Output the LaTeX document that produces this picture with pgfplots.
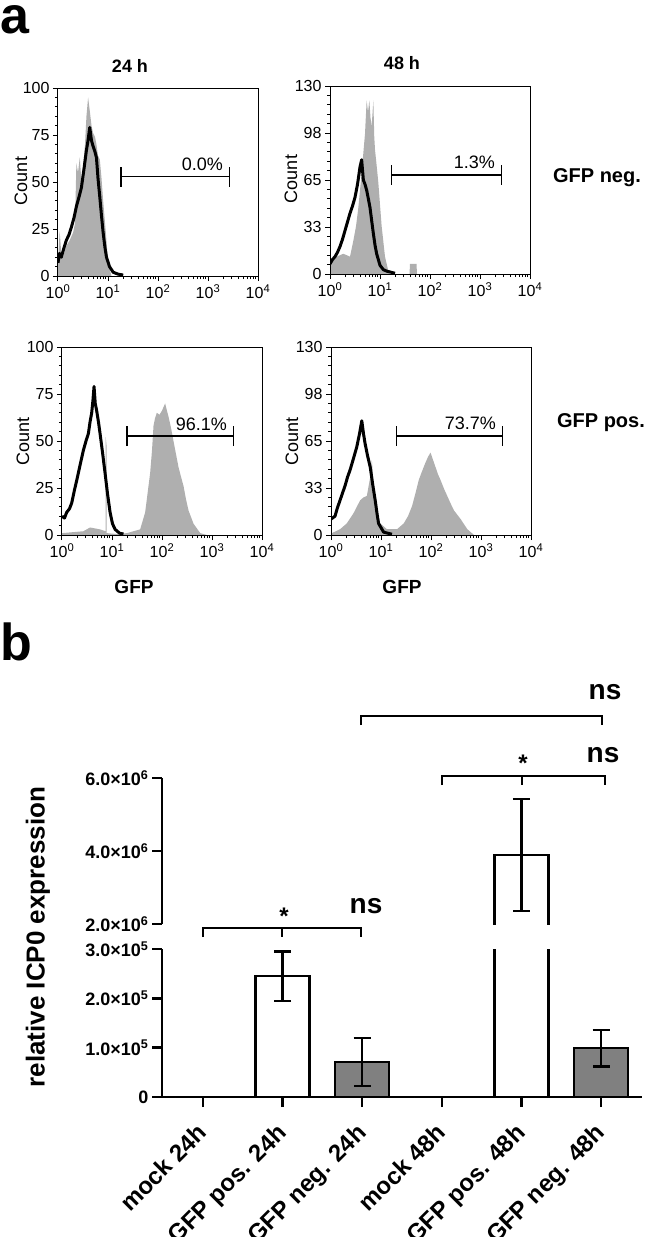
\documentclass[border=0pt]{standalone}
\usepackage{pgfplots}
\pgfplotsset{compat=1.18}
\usepackage{fontspec}
\setmainfont{Liberation Sans}
\newcommand{\fs}[1]{\fontsize{#1}{#1}\selectfont}
\definecolor{histgray}{RGB}{175,175,175}
\definecolor{bargray}{RGB}{128,128,128}

\pgfplotsset{
 flow/.style={
  scale only axis, width=200pt, height=188pt,
  xmin=0, xmax=4, ymin=0,
  xtick={0,1,2,3,4},
  xticklabels={10\textsuperscript{0},10\textsuperscript{1},10\textsuperscript{2},10\textsuperscript{3},10\textsuperscript{4}},
  minor xtick={0.301,0.477,0.602,0.699,0.778,0.845,0.903,0.954,
    1.301,1.477,1.602,1.699,1.778,1.845,1.903,1.954,
    2.301,2.477,2.602,2.699,2.778,2.845,2.903,2.954,
    3.301,3.477,3.602,3.699,3.778,3.845,3.903,3.954},
  tick align=outside, xtick pos=left, ytick pos=left,
  major tick length=5pt, minor tick length=3pt,
  axis line style={line width=1pt},
  major tick style={line width=1pt, black},
  minor tick style={line width=0.8pt, black},
  minor y tick num=4,
  ticklabel style={font=\fs{16}},
  /pgf/number format/assume math mode=true,
  axis on top,
 },
 hist/.style={fill=histgray, draw=none},
 ctrl/.style={black, line width=3pt, line join=round},
 errb/.style={error bars/.cd, y dir=both, y explicit,
   error bar style={draw=black, line width=2.5pt},
   error mark options={rotate=90, mark size=8.5pt, line width=2.5pt, draw=black}},
 seg/.style={
  scale only axis, width=480pt,
  xmin=-0.515, xmax=5.515,
  axis line style={line width=2.5pt, -},
  yticklabel style={font=\bfseries\fs{18}},
  scaled y ticks=false,
  tick align=outside, major tick length=10pt,
  major tick style={line width=2.5pt, black},
  ybar, bar width=54pt,
 },
}

\newcommand{\gate}[4]{%
  \draw[line width=1.3pt] (axis cs:#1,#3) -- (axis cs:#2,#3);
  \draw[line width=1.3pt] ([yshift=-10pt]axis cs:#1,#3) -- ([yshift=10pt]axis cs:#1,#3);
  \draw[line width=1.3pt] ([yshift=-10pt]axis cs:#2,#3) -- ([yshift=10pt]axis cs:#2,#3);
  \node[anchor=base east, font=\fs{18}, inner sep=0pt] at ([yshift=6pt]axis cs:3.3,#3) {#4};
}

\begin{document}
\begin{tikzpicture}
\useasboundingbox (0pt,0pt) rectangle (645pt,-1237pt);

% ---------------- panel a ----------------
\node[anchor=base west, inner sep=0pt, font=\bfseries\fs{52}] at (0pt,-33pt) {a};
\node[font=\bfseries\fs{18}] at (130pt,-66pt) {24 h};
\node[font=\bfseries\fs{18}] at (402pt,-63pt) {48 h};
\node[font=\bfseries\fs{20}] at (597pt,-178pt) {GFP neg.};
\node[font=\bfseries\fs{20}] at (601pt,-423pt) {GFP pos.};
\node[font=\fs{18}, rotate=90] at (21pt,-181pt) {Count};
\node[font=\fs{18}, rotate=90] at (291pt,-179pt) {Count};
\node[font=\fs{18}, rotate=90] at (23pt,-441pt) {Count};
\node[font=\fs{18}, rotate=90] at (292pt,-441pt) {Count};
\node[font=\bfseries\fs{19}] at (134pt,-587pt) {GFP};
\node[font=\bfseries\fs{19}] at (402pt,-587pt) {GFP};

% plot 1: 24 h, GFP neg.
\begin{axis}[flow, at={(58pt,-276pt)}, anchor=south west, ymax=100, ytick={0,25,50,75,100}]
\addplot[hist] coordinates {(0,7) (0.033,24) (0.06,14) (0.10,10) (0.167,16) (0.234,19) (0.301,23) (0.34,28) (0.368,60) (0.40,55) (0.435,63) (0.47,50) (0.502,58) (0.54,70) (0.569,85) (0.602,95) (0.635,88) (0.67,80) (0.702,76) (0.74,74) (0.769,70) (0.80,64) (0.836,62) (0.87,52) (0.903,40) (0.957,23) (1.003,7) (1.07,0) (4,0)} \closedcycle;
\addplot[ctrl] coordinates {(0,7) (0.03,12) (0.067,10) (0.12,15) (0.167,19) (0.22,22) (0.268,26) (0.32,31) (0.368,37) (0.42,42) (0.468,47) (0.52,57) (0.569,67) (0.60,72) (0.635,79) (0.67,72) (0.702,69) (0.74,66) (0.769,63) (0.80,52) (0.836,42) (0.87,32) (0.903,23) (0.94,15) (0.970,10) (1.03,5) (1.104,2) (1.2,1) (1.304,0.5)};
\gate{1.258}{3.426}{52.8}{0.0\%}
\end{axis}

% plot 2: 48 h, GFP neg.
\begin{axis}[flow, at={(330pt,-274pt)}, anchor=south west, ymax=130, ytick={0,32.5,65,97.5,130}, yticklabels={0,33,65,98,130}]
\addplot[hist] coordinates {(0,7) (0.133,12) (0.267,14) (0.4,12) (0.467,23) (0.52,33) (0.567,46) (0.60,58) (0.633,70) (0.67,85) (0.7,97) (0.733,120) (0.76,112) (0.787,120) (0.81,108) (0.833,102) (0.867,120) (0.885,95) (0.9,86) (0.933,75) (0.967,63) (1.0,48) (1.033,33) (1.1,12) (1.167,2) (1.2,0) (1.59,0) (1.60,7) (1.73,7) (1.74,0) (4,0)} \closedcycle;
\addplot[ctrl] coordinates {(0,7) (0.05,10) (0.1,12) (0.15,15) (0.2,19) (0.25,24) (0.3,30) (0.35,36) (0.4,42) (0.45,47) (0.5,53) (0.55,62) (0.6,74) (0.633,79) (0.667,65) (0.70,62) (0.733,58) (0.767,52) (0.8,46) (0.833,37) (0.867,28) (0.9,20) (0.933,14) (1.0,6) (1.067,3) (1.133,2) (1.3,0.5)};
\gate{1.233}{3.43}{68.5}{1.3\%}
\end{axis}

% plot 3: 24 h, GFP pos.
\begin{axis}[flow, at={(62pt,-535pt)}, anchor=south west, ymax=100, ytick={0,25,50,75,100}]
\addplot[hist] coordinates {(0,1) (0.427,2) (0.561,4) (0.761,3) (0.87,2) (0.875,52) (0.89,48) (0.895,1) (1.095,0.5) (1.3,1) (1.429,2) (1.563,3) (1.663,12) (1.763,33) (1.80,45) (1.83,58) (1.86,62) (1.896,65) (1.95,64) (1.997,66) (2.03,68) (2.063,70) (2.10,66) (2.13,63) (2.18,57) (2.23,50) (2.28,43) (2.331,36) (2.38,31) (2.431,26) (2.48,19) (2.531,13) (2.631,6) (2.765,1) (2.898,0) (4,0)} \closedcycle;
\addplot[ctrl] coordinates {(0,10) (0.05,9) (0.093,12) (0.15,14) (0.194,17) (0.25,24) (0.294,29) (0.36,37) (0.427,45) (0.48,50) (0.528,54) (0.56,60) (0.594,65) (0.62,72) (0.641,79) (0.665,70) (0.694,66) (0.73,60) (0.761,54) (0.81,44) (0.861,33) (0.91,22) (0.962,12) (1.01,6) (1.062,3) (1.15,1) (1.229,0.5)};
\gate{1.297}{3.43}{52.6}{96.1\%}
\end{axis}

% plot 4: 48 h, GFP pos.
\begin{axis}[flow, at={(331pt,-535pt)}, anchor=south west, ymax=130, ytick={0,32.5,65,97.5,130}, yticklabels={0,33,65,98,130}]
\addplot[hist] coordinates {(0,1) (0.181,4) (0.315,8) (0.449,15) (0.583,24) (0.65,26) (0.717,27) (0.784,40) (0.817,52) (0.851,35) (0.884,24) (0.93,15) (0.985,8) (1.119,4) (1.32,4) (1.454,8) (1.54,13) (1.621,20) (1.69,29) (1.755,38) (1.82,44) (1.889,50) (1.94,54) (1.99,57) (2.04,52) (2.09,47) (2.14,42) (2.191,38) (2.26,32) (2.325,27) (2.39,22) (2.459,17) (2.593,11) (2.727,4) (2.861,0) (4,0)} \closedcycle;
\addplot[ctrl] coordinates {(0,11) (0.04,12) (0.08,13) (0.13,19) (0.181,24) (0.23,29) (0.281,34) (0.33,40) (0.382,45) (0.45,53) (0.516,61) (0.57,70) (0.616,79) (0.65,70) (0.683,63) (0.73,55) (0.784,47) (0.834,35) (0.884,24) (0.92,15) (0.951,8) (1.052,2) (1.219,0.5)};
\gate{1.31}{3.43}{68.5}{73.7\%}
\end{axis}

% ---------------- panel b ----------------
\node[anchor=base west, inner sep=0pt, font=\bfseries\fs{52}] at (0pt,-660pt) {b};
\node[font=\bfseries\fs{26}, rotate=90] at (38pt,-937pt) {relative ICP0 expression};

% lower segment
\begin{axis}[seg,
  at={(162pt,-1097pt)}, anchor=south west, height=148pt,
  ymin=0, ymax=3e5,
  axis x line*=bottom, axis y line*=left,
  xtick={0,1,2,3,4,5},
  xticklabels={mock 24h, GFP pos. 24h, GFP neg. 24h, mock 48h, GFP pos. 48h, GFP neg. 48h},
  xticklabel style={xshift=-7pt, yshift=-15pt, rotate=45, anchor=north east, inner sep=0pt, font=\bfseries\fs{24}},
  ytick={0,1e5,2e5,3e5},
  yticklabels={0, 1.0\texttimes10\textsuperscript{5}, 2.0\texttimes10\textsuperscript{5}, 3.0\texttimes10\textsuperscript{5}},
]
\addplot[draw=black, fill=white, line width=2.5pt, bar shift=0pt, errb] coordinates {(0,0) +- (0,0) (1,2.45e5) +- (0,0.5e5) (3,0) +- (0,0) (4,3.89e6) +- (0,1.53e6)};
\addplot[draw=black, fill=bargray, line width=2.5pt, bar shift=0pt, errb] coordinates {(2,0.71e5) +- (0,0.49e5) (5,0.99e5) +- (0,0.37e5)};
\end{axis}

% upper segment (axis broken between 3x10^5 and 2x10^6)
\begin{axis}[seg,
  at={(162pt,-924pt)}, anchor=south west, height=146pt,
  ymin=2e6, ymax=6e6,
  axis y line*=left, axis x line=none, xtick=\empty,
  ytick={2e6,4e6,6e6},
  yticklabels={2.0\texttimes10\textsuperscript{6}, 4.0\texttimes10\textsuperscript{6}, 6.0\texttimes10\textsuperscript{6}},
]
% bar of GFP pos. 48h (3.89e6): outline without the baseline, which lies below the break
\addplot[ybar=0pt, draw=none, fill=none, bar shift=0pt, errb] coordinates {(4,3.89e6) +- (0,1.53e6)};
\addplot[sharp plot, black, line width=2.5pt, line join=miter, mark=none] coordinates {(3.661,1.5e6) (3.661,3.89e6) (4.339,3.89e6) (4.339,1.5e6)};
\end{axis}

% significance brackets
\draw[line width=2.5pt] (203pt,-937pt) -- (203pt,-928pt) -- (361pt,-928pt) -- (361pt,-937pt);
\draw[line width=2.5pt] (282pt,-928pt) -- (282pt,-937pt);
\draw[line width=2.5pt] (442pt,-785pt) -- (442pt,-776pt) -- (605pt,-776pt) -- (605pt,-785pt);
\draw[line width=2.5pt] (522pt,-776pt) -- (522pt,-785pt);
\draw[line width=2.5pt] (361pt,-725pt) -- (361pt,-716pt) -- (602pt,-716pt) -- (602pt,-725pt);
\node[font=\bfseries\fs{24}] at (284pt,-916pt) {*};
\node[font=\bfseries\fs{24}] at (523pt,-763pt) {*};
\node[font=\bfseries\fs{28}] at (366pt,-906pt) {ns};
\node[font=\bfseries\fs{28}] at (603pt,-755pt) {ns};
\node[font=\bfseries\fs{28}] at (605pt,-692pt) {ns};
\end{tikzpicture}
\end{document}
